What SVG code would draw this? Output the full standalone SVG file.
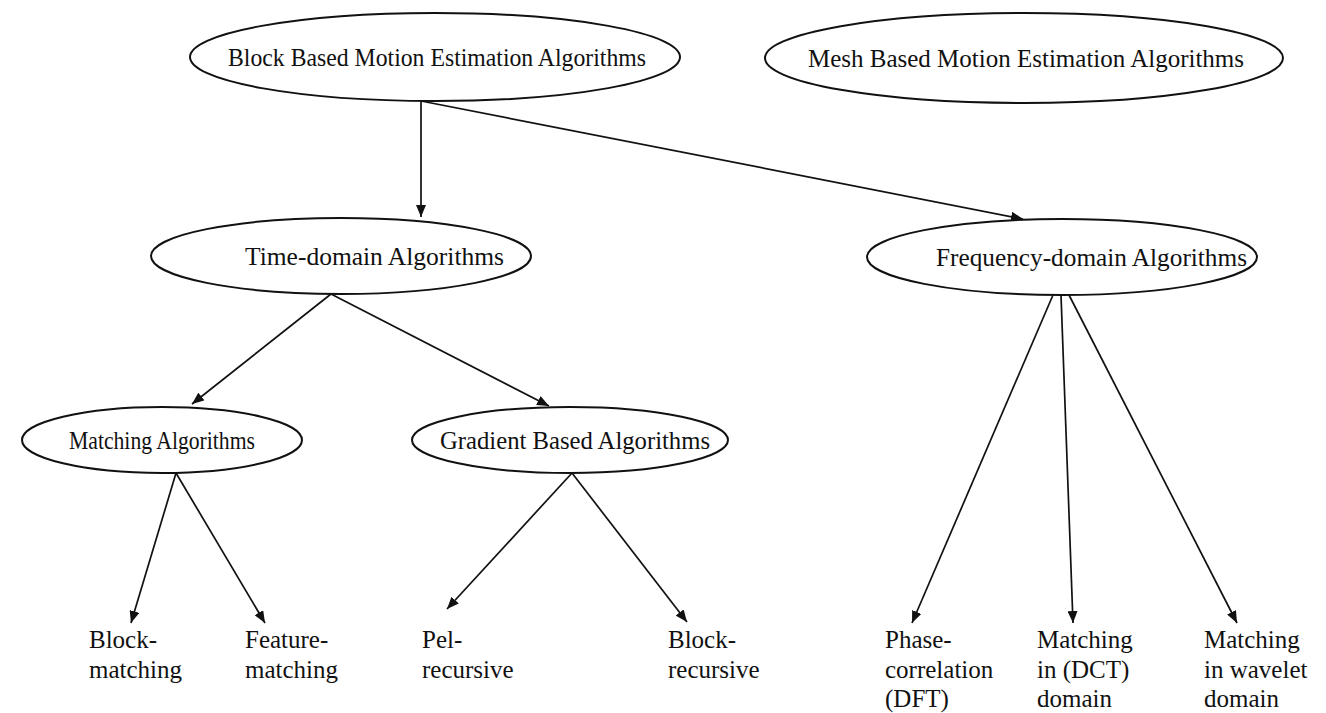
<svg xmlns="http://www.w3.org/2000/svg" width="1326" height="713" viewBox="0 0 1326 713">
<style>
.n{fill:#fff;stroke:#111;stroke-width:2}
.t{font-family:"Liberation Serif","Times New Roman",serif;font-size:25px;fill:#111}
.c{text-anchor:middle}
.e{stroke:#111;stroke-width:1.7;fill:none;marker-end:url(#a)}
</style>
<defs>
<marker id="a" viewBox="0 0 12 10" refX="12" refY="5" markerWidth="12" markerHeight="10" markerUnits="userSpaceOnUse" orient="auto"><path d="M0,0 L12,5 L0,10 z" fill="#111"/></marker>
</defs>
<rect width="1326" height="713" fill="#fff"/>
<g id="connectors">
<line class="e" x1="421" y1="101" x2="421" y2="217"/>
<line class="e" x1="421" y1="101" x2="1023" y2="219"/>
<line class="e" x1="331" y1="294" x2="192" y2="404"/>
<line class="e" x1="331" y1="294" x2="549" y2="406"/>
<line class="e" x1="176" y1="473" x2="131" y2="623"/>
<line class="e" x1="176" y1="473" x2="265" y2="623"/>
<line class="e" x1="572" y1="473" x2="447" y2="609"/>
<line class="e" x1="572" y1="473" x2="687" y2="622"/>
<line class="e" x1="1053" y1="295" x2="912" y2="623"/>
<line class="e" x1="1061" y1="295" x2="1073" y2="623"/>
<line class="e" x1="1069" y1="295" x2="1237" y2="623"/>
</g>
<g id="block-based"><ellipse class="n" cx="435" cy="57" rx="245" ry="44"/><text class="t" x="228" y="66" textLength="418" lengthAdjust="spacingAndGlyphs">Block Based Motion Estimation Algorithms</text></g>
<g id="mesh-based"><ellipse class="n" cx="1024" cy="58" rx="259" ry="45"/><text class="t c" x="1026" y="67">Mesh Based Motion Estimation Algorithms</text></g>
<g id="time-domain"><ellipse class="n" cx="341" cy="256" rx="190" ry="38"/><text class="t" x="245" y="265" textLength="259" lengthAdjust="spacingAndGlyphs">Time-domain Algorithms</text></g>
<g id="frequency-domain"><ellipse class="n" cx="1062" cy="257" rx="195" ry="38"/><text class="t" x="936" y="266" textLength="311" lengthAdjust="spacingAndGlyphs">Frequency-domain Algorithms</text></g>
<g id="matching"><ellipse class="n" cx="162" cy="440" rx="140" ry="33"/><text class="t" x="69" y="449" style="font-size:24.5px" textLength="186" lengthAdjust="spacingAndGlyphs">Matching Algorithms</text></g>
<g id="gradient"><ellipse class="n" cx="570" cy="440" rx="158" ry="33"/><text class="t" x="440" y="449" textLength="270" lengthAdjust="spacingAndGlyphs">Gradient Based Algorithms</text></g>
<g id="block-matching"><text class="t" x="89" y="648">Block-</text><text class="t" x="89" y="678">matching</text></g>
<g id="feature-matching"><text class="t" x="245" y="648">Feature-</text><text class="t" x="245" y="678">matching</text></g>
<g id="pel-recursive"><text class="t" x="422" y="648">Pel-</text><text class="t" x="422" y="678">recursive</text></g>
<g id="block-recursive"><text class="t" x="668" y="648">Block-</text><text class="t" x="668" y="678">recursive</text></g>
<g id="phase-correlation"><text class="t" x="885" y="648">Phase-</text><text class="t" x="885" y="678">correlation</text><text class="t" x="885" y="707">(DFT)</text></g>
<g id="matching-dct"><text class="t" x="1037" y="648">Matching</text><text class="t" x="1037" y="678">in (DCT)</text><text class="t" x="1037" y="707">domain</text></g>
<g id="matching-wavelet"><text class="t" x="1204" y="648">Matching</text><text class="t" x="1204" y="678">in wavelet</text><text class="t" x="1204" y="707">domain</text></g>
</svg>
